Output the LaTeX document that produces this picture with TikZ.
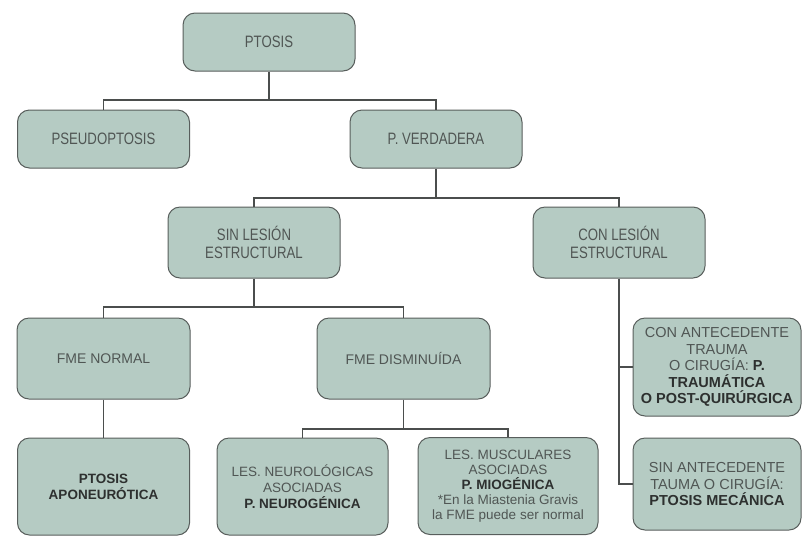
\documentclass[tikz,border=0pt]{standalone}
\usepackage{fontspec}
\setmainfont{Liberation Sans}
\newfontfamily\condfont[FakeStretch=0.8]{Liberation Sans}
\usetikzlibrary{positioning}

\definecolor{fondo}{RGB}{181,203,195}
\definecolor{borde}{RGB}{88,94,92}
\definecolor{texto}{RGB}{80,86,84}
\definecolor{oscuro}{RGB}{45,48,47}
\definecolor{linea}{RGB}{75,78,77}
\newcommand{\resalta}[1]{\textcolor{oscuro}{\bfseries #1}}

\begin{document}
\begin{tikzpicture}[x=1pt, y=1pt,
		caja/.style={rectangle, rounded corners=12pt, draw=borde, fill=fondo, line width=1pt, align=center, inner sep=2pt, text=texto},
		alta/.style={caja, minimum width=172pt, font=\condfont\fontsize{16.5}{18.5}\selectfont},
		media/.style={caja, minimum width=173pt, minimum height=81pt, font=\fontsize{14}{16}\selectfont},
		baja/.style={caja, minimum width=172pt, minimum height=97pt, font=\fontsize{13.5}{16}\selectfont},
		lateral/.style={caja, minimum width=168pt, font=\fontsize{14.5}{16.5}\selectfont},
		enlace/.style={draw=linea, line width=1.3pt}]
		
		\useasboundingbox (0,0) rectangle (802,-539);
		
		% Nivel 0 y 1
		\node[alta, minimum height=58pt] (ptosis) at (269,-42) {PTOSIS};
		\node[alta, minimum height=58pt] (pseudo) at (103.5,-139) {PSEUDOPTOSIS};
		\node[alta, minimum height=58pt] (verdadera) at (436,-139) {P. VERDADERA};
		
		% Nivel 2
		\node[alta, minimum height=71pt] (sinlesion) at (254,-242.5) {SIN LESIÓN\\ESTRUCTURAL};
		\node[alta, minimum height=71pt] (conlesion) at (619,-242.5) {CON LESIÓN\\ESTRUCTURAL};
		
		% Nivel 3
		\node[media] (fmenormal) at (103.5,-358.5) {FME NORMAL};
		\node[media] (fmedism) at (403.5,-358.5) {FME DISMINUÍDA};
		
		% Diagnosticos
		\node[baja] (aponeur) at (103.5,-486.5) {\resalta{PTOSIS}\\\resalta{APONEURÓTICA}};
		\node[baja, minimum width=171pt] (neuro) at (302.5,-486.5) {LES. NEUROLÓGICAS\\ASOCIADAS\\\resalta{P. NEUROGÉNICA}};
		\node[baja, minimum width=180pt, font=\fontsize{13.5}{15}\selectfont] (mio) at (508,-486) {LES. MUSCULARES\\ASOCIADAS\\\resalta{P. MIOGÉNICA}\\{}*En la Miastenia Gravis\\la FME puede ser normal};
		
		% Columna derecha
		\node[lateral, minimum height=98pt] (conante) at (717,-367) {CON ANTECEDENTE\\TRAUMA\\O CIRUGÍA: \resalta{P.}\\\resalta{TRAUMÁTICA}\\\resalta{O POST-QUIRÚRGICA}};
		\node[lateral, minimum height=92pt] (sinante) at (717,-484) {SIN ANTECEDENTE\\TAUMA O CIRUGÍA:\\\resalta{PTOSIS MECÁNICA}};
		
		% Barras
		\coordinate (bus1) at (0,-100);
		\coordinate (bus2) at (0,-198);
		\coordinate (bus3) at (0,-307);
		\coordinate (bus4) at (0,-429);
		
		% Lineas
		\draw[enlace] (ptosis.south) -- (ptosis.south |- bus1) -| (pseudo.north);
		\draw[enlace] (ptosis.south |- bus1) -| (verdadera.north);
		\draw[enlace] (verdadera.south) -- (verdadera.south |- bus2) -| (sinlesion.north);
		\draw[enlace] (verdadera.south |- bus2) -| (conlesion.north);
		\draw[enlace] (sinlesion.south) -- (sinlesion.south |- bus3) -| (fmenormal.north);
		\draw[enlace] (sinlesion.south |- bus3) -| (fmedism.north);
		\draw[enlace] (fmenormal) -- (aponeur);
		\draw[enlace] (fmedism.south) -- (fmedism.south |- bus4) -| (neuro.north);
		\draw[enlace] (fmedism.south |- bus4) -| (mio.north);
		\draw[enlace] (conlesion.south) |- (sinante.west);
		\draw[enlace] (conlesion.south |- conante.west) -- (conante.west);
		
	\end{tikzpicture}
\end{document}
